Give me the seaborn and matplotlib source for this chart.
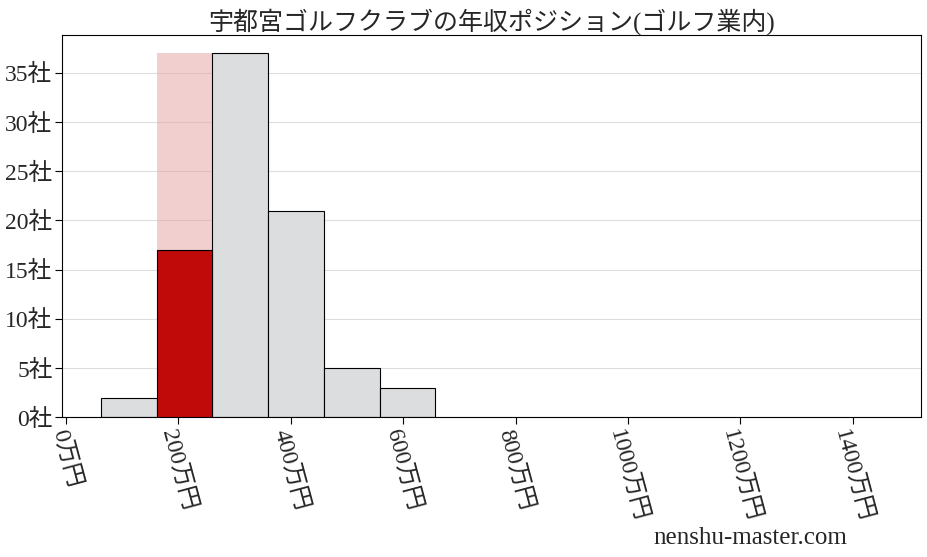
import matplotlib
matplotlib.use("Agg")
import matplotlib.pyplot as plt
import seaborn as sns
import numpy as np

# data
bin_edges = [62.3, 161.4, 260.5, 359.7, 458.8, 557.9, 657.0]
counts = [2, 37, 37, 21, 5, 3]
highlight_bin = 1
highlight_count = 17
xticks = [0, 200, 400, 600, 800, 1000, 1200, 1400]
yticks = [0, 5, 10, 15, 20, 25, 30, 35]
title = "宇都宮ゴルフクラブの年収ポジション(ゴルフ業内)"
watermark = "nenshu-master.com"

sns.set_theme(style="white")
plt.rcParams['font.family'] = ['Liberation Serif', 'Noto Sans CJK JP', 'DejaVu Sans']

fig = plt.figure(figsize=(9.28, 5.57), dpi=100)
ax = fig.add_axes([0.067, 0.251, 0.925, 0.686])

centers = [(bin_edges[i] + bin_edges[i + 1]) / 2 for i in range(len(counts))]
other_w = [c if i != highlight_bin else 0 for i, c in enumerate(counts)]

# pink background for the highlighted bin
sns.histplot(x=[centers[highlight_bin]], weights=[counts[highlight_bin]], bins=bin_edges,
             color="#e8a8a8", alpha=0.55, edgecolor="none", linewidth=0, ax=ax, zorder=2)
# gray bars
sns.histplot(x=centers, weights=other_w, bins=bin_edges, color="#dcdddf", alpha=1,
             edgecolor="black", linewidth=0.8, ax=ax, zorder=3)
# red bar
sns.histplot(x=[centers[highlight_bin]], weights=[highlight_count], bins=bin_edges,
             color="#c00a0a", alpha=1, edgecolor="black", linewidth=0.8, ax=ax, zorder=4)

ax.set_xlim(-7, 1521)
ax.set_ylim(0, 38.85)
ax.set_xticks(xticks)
ax.set_xticklabels([f"{v}万円" for v in xticks], rotation=-75, ha='center')
ax.set_yticks(yticks)
ax.set_yticklabels([f"{v}社" for v in yticks])
ax.tick_params(axis='both', labelsize=17, length=5, width=0.8, color='black', direction='out',
               bottom=True, left=True, pad=2)
ax.yaxis.grid(True, color="#dddddd", linewidth=0.8, zorder=0)
ax.xaxis.grid(False)
ax.set_axisbelow(True)
for s in ax.spines.values():
    s.set_color("black")
    s.set_linewidth(0.8)
ax.set_xlabel("")
ax.set_ylabel("")
ax.set_title(title, fontsize=18, pad=4)
fig.text(0.913, 0.035, watermark, fontsize=18, ha='right', va='center')

fig.savefig("out.png", dpi=100)
